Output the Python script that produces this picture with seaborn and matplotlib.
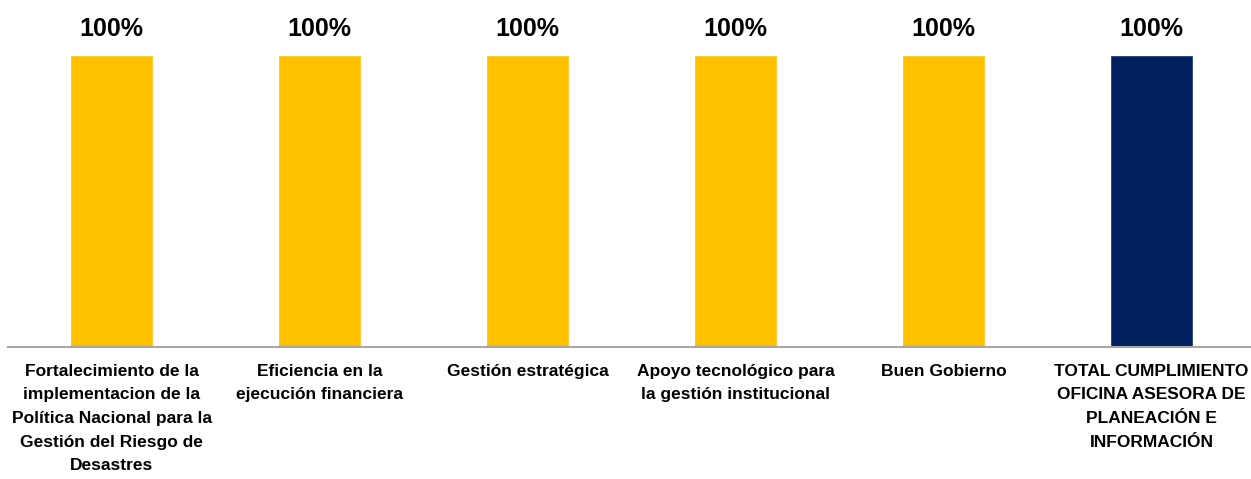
import matplotlib
matplotlib.use("Agg")
import matplotlib.pyplot as plt
import seaborn as sns
import pandas as pd

sns.set_style("white")
plt.rcParams['font.family'] = ['Liberation Sans Narrow', 'Liberation Sans', 'DejaVu Sans']

categorias = [
    "Fortalecimiento de la\nimplementacion de la\nPolítica Nacional para la\nGestión del Riesgo de\nDesastres",
    "Eficiencia en la\nejecución financiera",
    "Gestión estratégica",
    "Apoyo tecnológico para\nla gestión institucional",
    "Buen Gobierno",
    "TOTAL CUMPLIMIENTO\nOFICINA ASESORA DE\nPLANEACIÓN E\nINFORMACIÓN",
]
cumplimiento = [1.0, 1.0, 1.0, 1.0, 1.0, 1.0]
colores = ["#FFC000", "#FFC000", "#FFC000", "#FFC000", "#FFC000", "#002060"]

df = pd.DataFrame({'cat': categorias, 'val': cumplimiento})

fig = plt.figure(figsize=(12.51, 4.79), dpi=100)
ax = fig.add_axes([7.5 / 1251, 132 / 479, 1 - 7.5 / 1251, 347 / 479])
sns.barplot(data=df, x='cat', y='val', hue='cat', palette=colores,
            legend=False, width=0.4, saturation=1, ax=ax)

for cont in ax.containers:
    ax.bar_label(cont, labels=[f"{v:.0%}" for v in cont.datavalues],
                 padding=10, fontsize=18, fontweight='bold', color='black')

ax.set_xlim(-0.5, (1251 - 111.5) / 208)
ax.set_ylim(0, 347 / 292)
ax.set_xlabel('')
ax.set_ylabel('')
ax.set_yticks([])
ax.tick_params(axis='x', length=0, pad=12)
for lbl in ax.get_xticklabels():
    lbl.set_fontsize(12.5)
    lbl.set_fontweight('bold')
    lbl.set_color('black')
    lbl.set_linespacing(1.72)
    lbl.set_va('top')
    lbl.set_ha('center')
    lbl.set_multialignment('center')

for s in ['top', 'right', 'left']:
    ax.spines[s].set_visible(False)
ax.spines['bottom'].set_color('#A6A6A6')
ax.spines['bottom'].set_linewidth(1.5)

fig.savefig('out.png', dpi=100)
